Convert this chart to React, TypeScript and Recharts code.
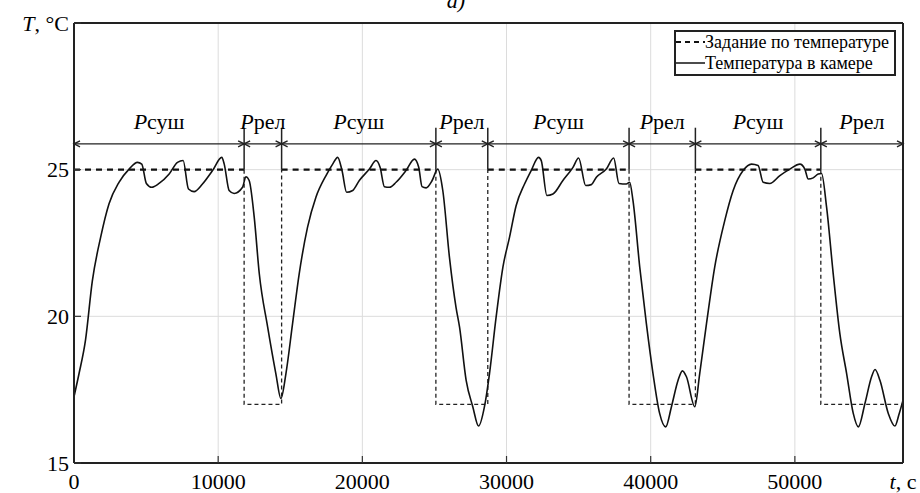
import React from 'react';
import {
  LineChart,
  Line,
  XAxis,
  YAxis,
  CartesianGrid,
  ReferenceLine,
  ReferenceDot,
  Legend,
} from 'recharts';

const FONT = "'Liberation Serif', 'Times New Roman', serif";

// Measured chamber temperature: time (s) and temperature (°C)
const timeSec = [
  0, 350, 800, 1270, 1850, 2430, 3120, 3820, 4400, 4700, 5020, 5390, 5900, 6600, 7180, 7570,
  7940, 8330, 8910, 9610, 10250, 10420, 10760, 11110, 11690, 11920, 12150, 12500, 12850, 13430,
  14000, 14350, 14700, 15160, 15620, 16200, 16780, 17480, 17940, 18290, 18590, 18910, 19330,
  19790, 20490, 20950, 21230, 21530, 21880, 22340, 23030, 23610, 23910, 24140, 24420, 24840,
  25230, 25580, 26040, 26500, 26740, 27200, 27660, 28060, 28470, 28820, 29280, 29750, 30210,
  30670, 31250, 31710, 32220, 32410, 32800, 33220, 33910, 34610, 35000, 35490, 35880, 36230,
  36920, 37430, 37800, 38310, 38540, 38770, 39240, 39700, 40160, 40620, 41040, 41440, 41900,
  42200, 42480, 43060, 43400, 43870, 44440, 45140, 45720, 46410, 46990, 47450, 47800, 48260,
  48960, 49650, 50350, 50690, 50930, 51270, 51620, 51850, 52200, 52660, 53120, 53590, 54050,
  54400, 54860, 55320, 55560, 55900, 56480, 56940, 57240, 57500,
];
const tempC = [
  17.26, 18.05, 19.2, 21.2, 22.7, 23.84, 24.57, 25.02, 25.25, 25.19, 24.53, 24.4, 24.53, 24.85, 25.25, 25.31,
  24.34, 24.25, 24.51, 24.97, 25.42, 25.19, 24.29, 24.19, 24.4, 24.76, 24.63, 23.38, 21.46, 19.64,
  18.05, 17.2, 18.05, 19.75, 21.45, 23.04, 24.06, 24.8, 25.19, 25.42, 24.97, 24.23, 24.29,
  24.63, 25.02, 25.31, 25.08, 24.42, 24.4, 24.57, 24.97, 25.36, 25.08, 24.42, 24.38, 24.63,
  25.02, 24.29, 22.02, 20.3, 19.64, 17.82, 16.92, 16.26, 16.92, 18.05, 19.98, 21.68, 22.7,
  23.78, 24.51, 24.97, 25.42, 25.31, 24.12, 24.17, 24.63, 25.08, 25.4, 24.46, 24.49, 24.74,
  25.02, 25.4, 24.53, 24.51, 24.57, 23.95, 21.68, 19.75, 18.05, 16.69, 16.23, 16.92, 17.82,
  18.14, 17.94, 16.92, 18.05, 19.75, 21.68, 23.27, 24.29, 24.97, 25.19, 25.14, 24.57, 24.53,
  24.8, 25.02, 25.19, 25.02, 24.68, 24.72, 24.85, 24.87, 23.72, 21.45, 19.41, 18.05, 16.69,
  16.23, 17.03, 17.94, 18.19, 17.82, 16.69, 16.26, 16.69, 17.14,
];

// Mode switching times (s) and setpoint level within each interval
const switchTimes = [0, 11800, 14400, 25100, 28700, 38500, 43100, 51800, 57500];
const setpointLevels = [25, 17, 25, 17, 25, 17, 25, 17];
const modeNames = ['суш', 'рел', 'суш', 'рел', 'суш', 'рел', 'суш', 'рел'];

const xTicks = [0, 10000, 20000, 30000, 40000, 50000, 57500];
const yTicks = [15, 20, 25, 30];
const innerXTicks = [10000, 20000, 30000, 40000, 50000];
const innerYTicks = [20, 25];

const legendNames = ['Задание по температуре', 'Температура в камере'];

const arrowLevel = 25.88;
const dividerTop = 26.43;
const modeLabelLevel = 26.39;

const tempData = timeSec.map((t, i) => ({ t, v: tempC[i] }));

// high (25) setpoint segments, bold dashes
const setHighData: { t: number; v: number | null }[] = [];
// low setpoint parts (drops, plateau, rises), thin dashes
const setLowData: { t: number; v: number | null }[] = [];
const HIGH = Math.max(...setpointLevels);
setpointLevels.forEach((lvl, i) => {
  const a = switchTimes[i];
  const b = switchTimes[i + 1];
  const last = i === setpointLevels.length - 1;
  if (lvl === HIGH) {
    setHighData.push({ t: a, v: lvl }, { t: b, v: lvl }, { t: b, v: null });
  } else {
    setLowData.push({ t: a, v: HIGH }, { t: a, v: lvl }, { t: b, v: lvl });
    if (!last) setLowData.push({ t: b, v: HIGH });
    setLowData.push({ t: b, v: null });
  }
});

const XTick = (props: any) => {
  const { x, y, payload } = props;
  const v = payload.value;
  const isLast = v === xTicks[xTicks.length - 1];
  return (
    <text x={x} y={y} dy="0.71em" textAnchor="middle" style={{ fontFamily: FONT }} fontSize={22} fill="#000">
      {isLast ? (
        <>
          <tspan fontStyle="italic">t</tspan>
          <tspan>, c</tspan>
        </>
      ) : (
        String(v)
      )}
    </text>
  );
};

const YTick = (props: any) => {
  const { x, y, payload } = props;
  const v = payload.value;
  const isTop = v === yTicks[yTicks.length - 1];
  return (
    <text x={x} y={y} dy="0.35em" textAnchor="end" style={{ fontFamily: FONT }} fontSize={22} fill="#000">
      {isTop ? (
        <>
          <tspan fontStyle="italic">T</tspan>
          <tspan>, °C</tspan>
        </>
      ) : (
        String(v)
      )}
    </text>
  );
};

const ArrowSeg = (p: any) => {
  const { x1, y1, x2, y2 } = p;
  const h = 6;
  const w = 3;
  const st = { stroke: '#222', strokeWidth: 1.4, fill: 'none' };
  return (
    <g>
      <line x1={x1} y1={y1} x2={x2} y2={y2} {...st} />
      <polyline points={`${x1 + h},${y1 - w} ${x1},${y1} ${x1 + h},${y1 + w}`} {...st} />
      <polyline points={`${x2 - h},${y2 - w} ${x2},${y2} ${x2 - h},${y2 + w}`} {...st} />
    </g>
  );
};

const makeModeLabel = (name: string) => (p: any) => (
  <text x={p.cx} y={p.cy} textAnchor="middle" style={{ fontFamily: FONT }} fontSize={22} fill="#000">
    <tspan fontStyle="italic">P</tspan>
    <tspan>{name}</tspan>
  </text>
);

const LegendBox = () => (
  <div
    style={{
      boxSizing: 'border-box',
      width: 222,
      border: '2px solid #222',
      background: '#fff',
      fontFamily: FONT,
      fontSize: 18,
      lineHeight: '21px',
      color: '#000',
      whiteSpace: 'nowrap',
      overflow: 'hidden',
    }}
  >
    {legendNames.map((name, i) => (
      <div key={name} style={{ display: 'flex', alignItems: 'center', height: 21 }}>
        <svg width={29} height={21} style={{ flex: 'none' }}>
          <line
            x1={0}
            y1={10}
            x2={29}
            y2={10}
            stroke="#111"
            strokeWidth={i === 0 ? 2 : 1.5}
            strokeDasharray={i === 0 ? '5 4' : undefined}
          />
        </svg>
        <span>{name}</span>
      </div>
    ))}
  </div>
);

export default function App() {
  const axisLine = { stroke: '#222', strokeWidth: 2 };
  const tickLine = { stroke: '#333', strokeWidth: 1.2 };
  return (
    <div style={{ position: 'absolute', left: 0, top: 0, width: 920, height: 493, background: '#fff' }}>
      <div
        style={{
          position: 'absolute',
          left: 0,
          top: -10,
          width: 912,
          textAlign: 'center',
          fontFamily: FONT,
          fontStyle: 'italic',
          fontSize: 22,
          lineHeight: '22px',
          zIndex: 2,
        }}
      >
        а)
      </div>
      <LineChart width={920} height={493} margin={{ top: 22, right: 0, bottom: 0, left: 0 }}>
        <CartesianGrid stroke="#dcdcdc" strokeWidth={1} />
        <XAxis
          dataKey="t"
          type="number"
          domain={[0, 57500]}
          ticks={xTicks}
          interval={0}
          height={30}
          tickSize={-7}
          tickMargin={17}
          axisLine={axisLine}
          tickLine={tickLine}
          tick={<XTick />}
          allowDataOverflow
        />
        <XAxis
          xAxisId="top"
          orientation="top"
          type="number"
          dataKey="t"
          domain={[0, 57500]}
          ticks={innerXTicks}
          interval={0}
          height={1}
          tickSize={-7}
          axisLine={axisLine}
          tickLine={tickLine}
          tick={false}
          allowDataOverflow
        />
        <YAxis
          type="number"
          domain={[15, 30]}
          ticks={yTicks}
          interval={0}
          width={74}
          tickSize={-7}
          tickMargin={12}
          axisLine={axisLine}
          tickLine={tickLine}
          tick={<YTick />}
          allowDataOverflow
        />
        <YAxis
          yAxisId="right"
          orientation="right"
          type="number"
          domain={[15, 30]}
          ticks={innerYTicks}
          interval={0}
          width={17}
          tickSize={-7}
          axisLine={axisLine}
          tickLine={tickLine}
          tick={false}
          allowDataOverflow
        />
        <Legend
          layout="vertical"
          align="center"
          verticalAlign="middle"
          wrapperStyle={{ left: 674, top: 30, width: 222 }}
          content={() => <LegendBox />}
        />
        <Line
          data={setLowData}
          dataKey="v"
          type="linear"
          stroke="#222"
          strokeWidth={1.3}
          strokeDasharray="4 3"
          dot={false}
          activeDot={false}
          connectNulls={false}
          isAnimationActive={false}
          legendType="none"
        />
        <Line
          data={setHighData}
          dataKey="v"
          type="linear"
          stroke="#111"
          strokeWidth={2.2}
          strokeDasharray="6 5"
          dot={false}
          activeDot={false}
          connectNulls={false}
          isAnimationActive={false}
          legendType="none"
        />
        <Line
          data={tempData}
          dataKey="v"
          type="monotone"
          stroke="#111"
          strokeWidth={1.6}
          dot={false}
          activeDot={false}
          isAnimationActive={false}
          legendType="none"
        />
        {switchTimes.slice(1, -1).map((t) => (
          <ReferenceLine
            key={'d' + t}
            segment={[
              { x: t, y: HIGH },
              { x: t, y: dividerTop },
            ]}
            stroke="#222"
            strokeWidth={1.5}
          />
        ))}
        {setpointLevels.map((_, i) => (
          <ReferenceLine
            key={'a' + i}
            segment={[
              { x: switchTimes[i], y: arrowLevel },
              { x: switchTimes[i + 1], y: arrowLevel },
            ]}
            shape={ArrowSeg}
          />
        ))}
        {modeNames.map((name, i) => (
          <ReferenceDot
            key={'m' + i}
            x={(switchTimes[i] + switchTimes[i + 1]) / 2}
            y={modeLabelLevel}
            r={1}
            shape={makeModeLabel(name)}
          />
        ))}
      </LineChart>
    </div>
  );
}
